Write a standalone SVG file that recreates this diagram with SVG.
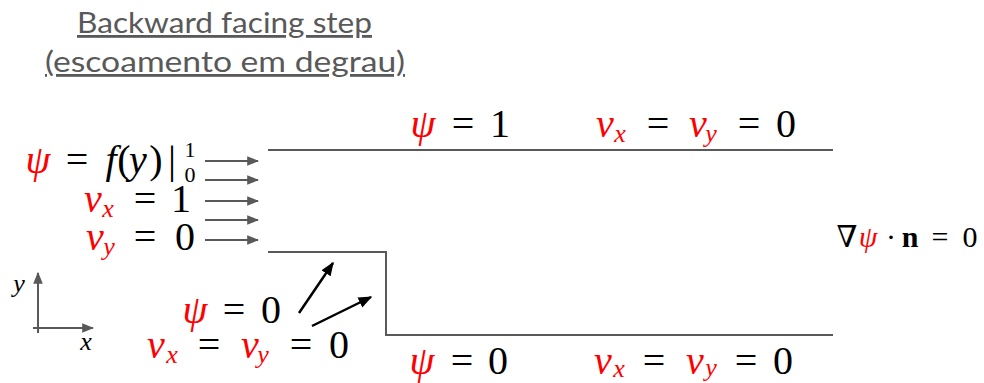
<svg xmlns="http://www.w3.org/2000/svg" width="984" height="383" viewBox="0 0 984 383">
<style>
.t{font-family:"Lato","Open Sans",sans-serif;font-size:28px;fill:#595959;text-decoration:underline}
.m{font-family:"Liberation Serif","DejaVu Serif",serif;font-size:40px;text-anchor:middle;fill:#000}
.s{font-size:26px}
.i{font-style:italic}
.r{fill:#ff0000}
.w{fill:none;stroke:#595959;stroke-width:2}
.ga{stroke:#595959;stroke-width:2;fill:none;marker-end:url(#gh)}
.ba{stroke:#000;stroke-width:2.5;fill:none;marker-end:url(#bh)}
</style>
<defs>
<marker id="gh" viewBox="0 0 10 10" refX="9" refY="5" markerWidth="6" markerHeight="6" orient="auto" markerUnits="strokeWidth"><path d="M0,1 L10,5 L0,9 Z" fill="#595959"/></marker>
<marker id="bh" viewBox="0 0 10 10" refX="9" refY="5" markerWidth="5.5" markerHeight="5.5" orient="auto" markerUnits="strokeWidth"><path d="M0,1 L10,5 L0,9 Z" fill="#000"/></marker>
</defs>
<rect width="984" height="383" fill="#fff"/>
<g id="title">
<text class="t" x="77" y="33" textLength="295" lengthAdjust="spacingAndGlyphs">Backward facing step</text>
<text class="t" x="45" y="72" textLength="360" lengthAdjust="spacingAndGlyphs">(escoamento em degrau)</text>
</g>
<g id="walls">
<path class="w" d="M268,150 H833"/>
<path class="w" d="M268,252 H386 V335 H833"/>
</g>
<g id="connectors">
<path class="ga" d="M205,161 H258"/>
<path class="ga" d="M205,180 H258"/>
<path class="ga" d="M205,201 H258"/>
<path class="ga" d="M205,220 H258"/>
<path class="ga" d="M205,240 H258"/>
<path class="ga" d="M38,333 V273"/>
<path class="ga" d="M33,328 H93"/>
<path class="ba" d="M299,313 L333,263"/>
<path class="ba" d="M312,326 L371,297"/>
</g>
<g id="top-label">
<text class="m i r" x="423" y="137">ψ</text><text class="m" x="463" y="137">=</text><text class="m" x="500" y="137">1</text>
<text class="m i r" x="605" y="137">v</text><text class="m s i r" x="620" y="142">x</text><text class="m" x="658" y="137">=</text>
<text class="m i r" x="698" y="137">v</text><text class="m s i r" x="711" y="142">y</text><text class="m" x="749" y="137">=</text><text class="m" x="786" y="137">0</text>
</g>
<g id="bottom-label">
<text class="m i r" x="422" y="374">ψ</text><text class="m" x="462" y="374">=</text><text class="m" x="498" y="374">0</text>
<text class="m i r" x="603" y="374">v</text><text class="m s i r" x="619" y="377">x</text><text class="m" x="654" y="374">=</text>
<text class="m i r" x="695" y="374">v</text><text class="m s i r" x="711" y="376">y</text><text class="m" x="746" y="374">=</text><text class="m" x="783" y="374">0</text>
</g>
<g id="inlet-label">
<text class="m i r" x="38" y="173">ψ</text><text class="m" x="77" y="173">=</text>
<text class="m i" x="111" y="173">f</text><text class="m" x="124" y="173">(</text><text class="m i" x="138" y="173">y</text><text class="m" x="156" y="173">)</text><text class="m" x="172" y="173">|</text>
<text class="m" x="190" y="157" style="font-size:22px">1</text><text class="m" x="190" y="182" style="font-size:22px">0</text>
<text class="m i r" x="93" y="212">v</text><text class="m s i r" x="108" y="217">x</text><text class="m" x="145" y="212">=</text><text class="m" x="181" y="212">1</text>
<text class="m i r" x="95" y="250">v</text><text class="m s i r" x="109" y="255">y</text><text class="m" x="145" y="250">=</text><text class="m" x="185" y="250">0</text>
</g>
<g id="step-label">
<text class="m i r" x="195" y="323">ψ</text><text class="m" x="234" y="323">=</text><text class="m" x="271" y="323">0</text>
<text class="m i r" x="156" y="358">v</text><text class="m s i r" x="172" y="363">x</text><text class="m" x="209" y="358">=</text>
<text class="m i r" x="250" y="358">v</text><text class="m s i r" x="263" y="363">y</text><text class="m" x="301" y="358">=</text><text class="m" x="339" y="358">0</text>
</g>
<g id="outlet-label">
<text class="m" x="847" y="247" style="font-size:30px">∇</text><text class="m i r" x="868" y="247" style="font-size:30px">ψ</text>
<text class="m" x="891" y="247" style="font-size:30px">·</text><text class="m" x="910" y="247" style="font-size:30px;font-weight:bold">n</text>
<text class="m" x="940" y="247" style="font-size:30px">=</text><text class="m" x="970" y="247" style="font-size:30px">0</text>
</g>
<g id="axes-labels">
<text class="m i" x="19" y="292" style="font-size:26px">y</text>
<text class="m i" x="86" y="350" style="font-size:26px">x</text>
</g>
</svg>
